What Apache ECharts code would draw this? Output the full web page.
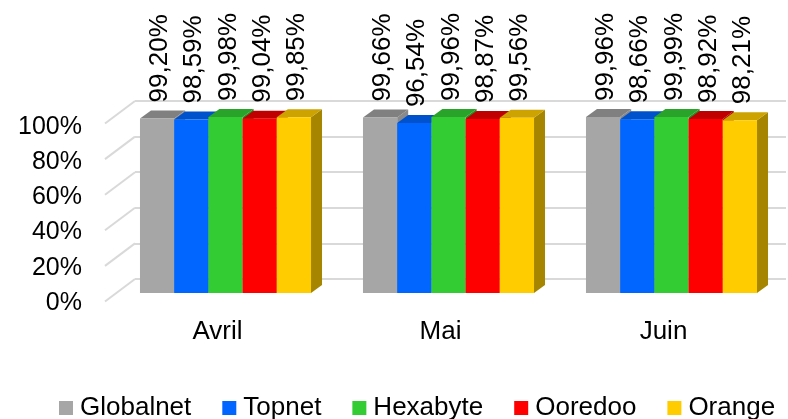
<!DOCTYPE html>
<html lang="fr">
<head>
    <meta charset="UTF-8">
    <title>Disponibilité</title>
    <style>
        html, body { margin: 0; padding: 0; background: #fff; }
    </style>
</head>
<body>
<script src="https://cdn.jsdelivr.net/npm/echarts@6/dist/echarts.min.js"></script>
<div id="main" style="width: 788px;height:419px;"></div>
<script type="text/javascript">
    // données
    var mois = ['Avril', 'Mai', 'Juin'];
    var operateurs = ['Globalnet', 'Topnet', 'Hexabyte', 'Ooredoo', 'Orange'];
    var globalnet = [99.20, 99.66, 99.96];
    var topnet = [98.59, 96.54, 98.66];
    var hexabyte = [99.98, 99.96, 99.99];
    var ooredoo = [99.04, 98.87, 98.92];
    var orange = [99.85, 99.56, 98.21];
    var graduations = [0, 20, 40, 60, 80, 100];

    var valeurs = [globalnet, topnet, hexabyte, ooredoo, orange];
    // couleurs : face avant, dessus, côté
    var faces = ['#A6A6A6', '#0066FF', '#33CC33', '#FF0000', '#FFCC00'];
    var dessus = ['#808080', '#0052CC', '#29A329', '#C00000', '#CCA300'];
    var cotes = ['#8A8A8A', '#0047B3', '#248F24', '#B30000', '#A68600'];

    var police = "'Liberation Sans', Arial, sans-serif";
    var DX = 11, DY = -8; // profondeur des barres

    var myChart = echarts.init(document.getElementById('main'));

    function barre(idx) {
        return function (params, api) {
            var cat = api.value(0), val = api.value(1);
            var base = api.coord([cat, 0]);
            var haut = api.coord([cat, val]);
            var bande = api.size([1, 0])[0];
            var groupe = bande * 0.767;
            var l = groupe / 5;
            var x0 = base[0] - groupe / 2 + idx * l;
            var yt = haut[1], yb = base[1];
            var txt = val.toFixed(2).replace('.', ',') + '%';
            return {
                type: 'group',
                children: [
                    {
                        type: 'polygon',
                        shape: { points: [[x0 + l, yt], [x0 + l + DX, yt + DY], [x0 + l + DX, yb + DY], [x0 + l, yb]] },
                        style: { fill: cotes[idx] }
                    },
                    {
                        type: 'polygon',
                        shape: { points: [[x0, yt], [x0 + l, yt], [x0 + l + DX, yt + DY], [x0 + DX, yt + DY]] },
                        style: { fill: dessus[idx] }
                    },
                    {
                        type: 'rect',
                        shape: { x: x0, y: yt, width: l, height: yb - yt },
                        style: { fill: faces[idx] }
                    },
                    {
                        type: 'text',
                        x: x0 + l / 2 + 3,
                        y: yt + DY - 8,
                        rotation: Math.PI / 2,
                        style: {
                            text: txt,
                            fill: '#000',
                            font: '26px ' + police,
                            align: 'left',
                            verticalAlign: 'middle'
                        }
                    }
                ]
            };
        };
    }

    var series = [];
    for (var i = 0; i < operateurs.length; i++) {
        series.push({
            name: operateurs[i],
            type: 'custom',
            xAxisIndex: 0,
            yAxisIndex: 0,
            itemStyle: { color: faces[i] },
            renderItem: barre(i),
            data: valeurs[i].map(function (v, j) { return [j, v]; })
        });
    }

    // lignes obliques du mur gauche
    series.push({
        type: 'custom',
        xAxisIndex: 1,
        yAxisIndex: 1,
        silent: true,
        z: 0,
        renderItem: function (params, api) {
            var p = api.coord([0, api.value(0)]);
            return {
                type: 'line',
                shape: { x1: p[0], y1: p[1], x2: p[0] - 30, y2: p[1] + 22.5 },
                style: { stroke: '#D9D9D9', lineWidth: 2 }
            };
        },
        data: graduations.map(function (g) { return [g]; })
    });

    var option = {
        backgroundColor: '#ffffff',
        animation: false,
        textStyle: { fontFamily: police },
        legend: {
            data: operateurs,
            icon: 'rect',
            itemWidth: 14,
            itemHeight: 14,
            itemGap: 31,
            left: 59,
            top: 395,
            padding: 0,
            textStyle: { fontSize: 26, color: '#000', fontFamily: police, padding: [0, 0, 0, 2] }
        },
        grid: [
            // plan des barres
            { left: 114, right: 5, top: 117, bottom: 126, containLabel: false, outerBoundsMode: 'none' },
            // mur du fond
            { left: 135, right: 2, top: 101, bottom: 140, containLabel: false, outerBoundsMode: 'none' },
            // plan avant (graduations)
            { left: 105, right: 600, top: 127, bottom: 116, containLabel: false, outerBoundsMode: 'none' }
        ],
        xAxis: [
            {
                gridIndex: 0,
                type: 'category',
                data: mois,
                axisLine: { show: false },
                axisTick: { show: false },
                axisLabel: { fontSize: 26, color: '#000', margin: 26, padding: [0, 16, 0, 0] }
            },
            { gridIndex: 1, type: 'value', min: 0, max: 1, show: false },
            { gridIndex: 2, type: 'value', min: 0, max: 1, show: false }
        ],
        yAxis: [
            { gridIndex: 0, type: 'value', min: 0, max: 100, show: false },
            {
                gridIndex: 1,
                type: 'value',
                min: 0,
                max: 100,
                interval: 20,
                axisLine: { show: false },
                axisTick: { show: false },
                axisLabel: { show: false },
                splitLine: { lineStyle: { color: '#D9D9D9', width: 2 } }
            },
            {
                gridIndex: 2,
                type: 'value',
                min: 0,
                max: 100,
                interval: 20,
                axisLine: { show: false },
                axisTick: { show: false },
                splitLine: { show: false },
                axisLabel: { formatter: '{value}%', fontSize: 25, color: '#000', margin: 23 }
            }
        ],
        series: series
    };

    myChart.setOption(option);
</script>
</body>
</html>
